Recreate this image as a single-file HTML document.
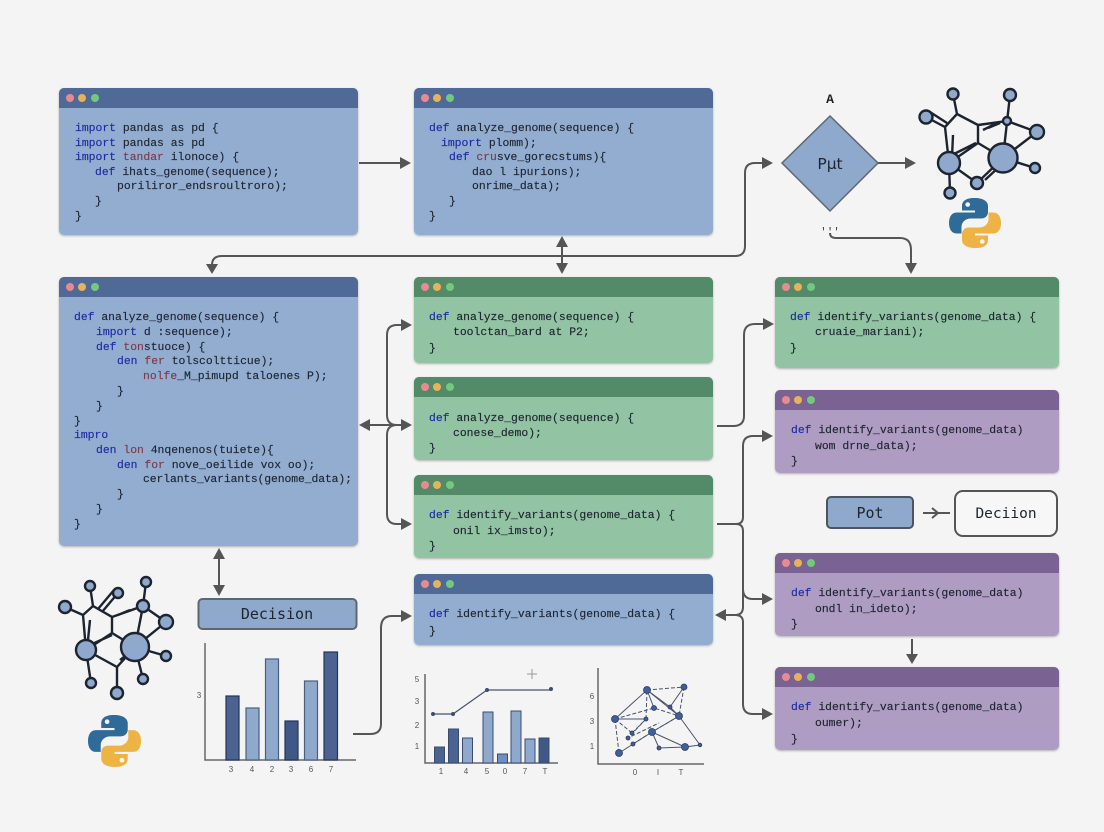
<!DOCTYPE html>
<html><head><meta charset="utf-8"><style>
html,body{margin:0;padding:0;background:#f4f4f4;width:1104px;height:832px;overflow:hidden}
svg{display:block}
.c{font-family:"Liberation Mono",monospace;font-size:11.4px;fill:#1d2530;stroke:#1d2530;stroke-width:.15}
.k{fill:#1c2ca0;stroke:#1c2ca0}.r{fill:#7d3a4a;stroke:#7d3a4a}
.l{fill:none;stroke:#555;stroke-width:2}
.a{fill:#555}
.m line,.m path{stroke:#1c2430;stroke-width:2.4;fill:none}
.m circle{fill:#8fa9cd;stroke:#1c2430;stroke-width:2.4}
.t{font-family:"Liberation Sans",sans-serif;font-size:8px;fill:#555;text-anchor:middle}
</style></head><body>
<svg width="1104" height="832" viewBox="0 0 1104 832" xmlns="http://www.w3.org/2000/svg">
<defs>
<filter id="s" x="-5%" y="-5%" width="110%" height="110%"><feDropShadow dx="0" dy="1" stdDeviation="1" flood-color="#000" flood-opacity=".28"/></filter>
<g id="dots"><circle cx="11" cy="10" r="4" fill="#e98a93"/><circle cx="23" cy="10" r="4" fill="#e8b25a"/><circle cx="36" cy="10" r="4" fill="#72c97f"/></g>
<g id="py">
<path fill="#2f6b99" d="M49 0C30 0 25 8 25 16V25H50V29H15C5 29 0 38 0 50C0 62 5 71 15 71H24V58C24 48 32 41 42 41H62C70 41 75 35 75 28V16C75 8 68 0 49 0Z"/>
<circle cx="36" cy="13" r="4.5" fill="#f4f4f4"/>
<path fill="#eeb345" d="M51 100C70 100 75 92 75 84V75H50V71H85C95 71 100 62 100 50C100 38 95 29 85 29H76V42C76 52 68 59 58 59H38C30 59 25 65 25 72V84C25 92 32 100 51 100Z"/>
<circle cx="64" cy="87" r="4.5" fill="#f4f4f4"/>
</g>
</defs>
<rect width="1104" height="832" fill="#f4f4f4"/>

<!-- blue windows -->
<g filter="url(#s)">
<rect x="59" y="88" width="299" height="147" rx="5" fill="#93add1"/><path d="M59 108V93a5 5 0 0 1 5-5H353a5 5 0 0 1 5 5V108Z" fill="#4f6b96"/>
<rect x="414" y="88" width="299" height="147" rx="5" fill="#93add1"/><path d="M414 108V93a5 5 0 0 1 5-5H708a5 5 0 0 1 5 5V108Z" fill="#4f6b96"/>
<rect x="59" y="277" width="299" height="269" rx="5" fill="#93add1"/><path d="M59 297V282a5 5 0 0 1 5-5H353a5 5 0 0 1 5 5V297Z" fill="#4f6b96"/>
<rect x="414" y="574" width="299" height="71" rx="5" fill="#93add1"/><path d="M414 594V579a5 5 0 0 1 5-5H708a5 5 0 0 1 5 5V594Z" fill="#4f6b96"/>
<!-- green -->
<rect x="414" y="277" width="299" height="86" rx="5" fill="#92c3a2"/><path d="M414 297V282a5 5 0 0 1 5-5H708a5 5 0 0 1 5 5V297Z" fill="#528a68"/>
<rect x="414" y="377" width="299" height="83" rx="5" fill="#92c3a2"/><path d="M414 397V382a5 5 0 0 1 5-5H708a5 5 0 0 1 5 5V397Z" fill="#528a68"/>
<rect x="414" y="475" width="299" height="83" rx="5" fill="#92c3a2"/><path d="M414 495V480a5 5 0 0 1 5-5H708a5 5 0 0 1 5 5V495Z" fill="#528a68"/>
<rect x="775" y="277" width="284" height="91" rx="5" fill="#92c3a2"/><path d="M775 297V282a5 5 0 0 1 5-5H1054a5 5 0 0 1 5 5V297Z" fill="#528a68"/>
<!-- purple -->
<rect x="775" y="390" width="284" height="83" rx="5" fill="#ae9cc2"/><path d="M775 410V395a5 5 0 0 1 5-5H1054a5 5 0 0 1 5 5V410Z" fill="#7a6292"/>
<rect x="775" y="553" width="284" height="83" rx="5" fill="#ae9cc2"/><path d="M775 573V558a5 5 0 0 1 5-5H1054a5 5 0 0 1 5 5V573Z" fill="#7a6292"/>
<rect x="775" y="667" width="284" height="83" rx="5" fill="#ae9cc2"/><path d="M775 687V672a5 5 0 0 1 5-5H1054a5 5 0 0 1 5 5V687Z" fill="#7a6292"/>
</g>
<use href="#dots" x="59" y="88"/><use href="#dots" x="414" y="88"/><use href="#dots" x="59" y="277"/><use href="#dots" x="414" y="574"/>
<use href="#dots" x="414" y="277"/><use href="#dots" x="414" y="377"/><use href="#dots" x="414" y="475"/><use href="#dots" x="775" y="277"/>
<use href="#dots" x="775" y="390"/><use href="#dots" x="775" y="553"/><use href="#dots" x="775" y="667"/>

<!-- code -->
<g class="c">
<text x="75" y="131"><tspan class="k">import</tspan> pandas as pd {</text>
<text x="75" y="146"><tspan class="k">import</tspan> pandas as pd</text>
<text x="75" y="160"><tspan class="k">import</tspan> <tspan class="r">tandar</tspan> ilonoce) {</text>
<text x="95" y="175"><tspan class="k">def</tspan> ihats_genome(sequence);</text>
<text x="117" y="189">poriliror_endsroultroro);</text>
<text x="95" y="204">}</text>
<text x="75" y="219">}</text>

<text x="429" y="131"><tspan class="k">def</tspan> analyze_genome(sequence) {</text>
<text x="441" y="146"><tspan class="k">import</tspan> plomm);</text>
<text x="449" y="160"><tspan class="k">def</tspan> <tspan class="r">cru</tspan>sve_gorecstums){</text>
<text x="472" y="175">dao l ipurions);</text>
<text x="472" y="189">onrime_data);</text>
<text x="449" y="204">}</text>
<text x="429" y="219">}</text>

<text x="74" y="320"><tspan class="k">def</tspan> analyze_genome(sequence) {</text>
<text x="96" y="335"><tspan class="k">import</tspan> d :sequence);</text>
<text x="96" y="350"><tspan class="k">def</tspan> <tspan class="r">ton</tspan>stuoce) {</text>
<text x="117" y="364"><tspan class="k">den</tspan> <tspan class="r">fer</tspan> tolscoltticue);</text>
<text x="143" y="379"><tspan class="r">nolfe</tspan>_M_pimupd taloenes P);</text>
<text x="117" y="394">}</text>
<text x="96" y="409">}</text>
<text x="74" y="424">}</text>
<text x="74" y="438"><tspan class="k">impro</tspan></text>
<text x="96" y="453"><tspan class="k">den</tspan> <tspan class="r">lon</tspan> 4nqenenos(tuiete){</text>
<text x="117" y="468"><tspan class="k">den</tspan> <tspan class="r">for</tspan> nove_oeilide vox oo);</text>
<text x="143" y="482" textLength="209">cerlants_variants(genome_data);</text>
<text x="117" y="497">}</text>
<text x="96" y="512">}</text>
<text x="74" y="527">}</text>

<text x="429" y="320"><tspan class="k">def</tspan> analyze_genome(sequence) {</text>
<text x="453" y="335">toolctan_bard at P2;</text>
<text x="429" y="351">}</text>
<text x="429" y="421"><tspan class="k">def</tspan> analyze_genome(sequence) {</text>
<text x="453" y="436">conese_demo);</text>
<text x="429" y="451">}</text>
<text x="429" y="518"><tspan class="k">def</tspan> identify_variants(genome_data) {</text>
<text x="453" y="534">onil ix_imsto);</text>
<text x="429" y="549">}</text>
<text x="429" y="617"><tspan class="k">def</tspan> identify_variants(genome_data) {</text>
<text x="429" y="634">}</text>

<text x="790" y="320"><tspan class="k">def</tspan> identify_variants(genome_data) {</text>
<text x="815" y="335">cruaie_mariani);</text>
<text x="790" y="351">}</text>
<text x="791" y="433"><tspan class="k">def</tspan> identify_variants(genome_data)</text>
<text x="815" y="449">wom drne_data);</text>
<text x="791" y="464">}</text>
<text x="791" y="596"><tspan class="k">def</tspan> identify_variants(genome_data)</text>
<text x="815" y="612">ondl in_ideto);</text>
<text x="791" y="627">}</text>
<text x="791" y="710"><tspan class="k">def</tspan> identify_variants(genome_data)</text>
<text x="815" y="726">oumer);</text>
<text x="791" y="742">}</text>
</g>

<!-- connectors -->
<path class="l" d="M359 163H401"/><polygon class="a" points="411,163 400,157 400,169"/>
<path class="l" d="M212 264V265Q212 256 222 256H735Q745 256 745 246V173Q745 163 755 163H763"/>
<polygon class="a" points="212,274 206,264 218,264"/><polygon class="a" points="773,163 762,157 762,169"/>
<path class="l" d="M562 244V266"/><polygon class="a" points="562,236 556,247 568,247"/><polygon class="a" points="562,274 556,263 568,263"/>
<path class="l" d="M878 163H906"/><polygon class="a" points="916,163 905,157 905,169"/>
<path class="l" d="M830 233Q830 238 836 238H900Q911 238 911 250V264"/><polygon class="a" points="911,274 905,263 917,263"/>
<path class="l" d="M366 425H402M397 425Q387 425 387 415V335Q387 325 397 325H402M397 425Q387 425 387 435V514Q387 524 397 524H402"/>
<polygon class="a" points="359,425 370,419 370,431"/><polygon class="a" points="412,425 401,419 401,431"/><polygon class="a" points="412,325 401,319 401,331"/><polygon class="a" points="412,524 401,518 401,530"/>
<path class="l" d="M717 426H733Q744 426 744 416V335Q744 324 755 324H764"/><polygon class="a" points="774,324 763,318 763,330"/>
<path class="l" d="M717 524H736Q743 524 743 517V446Q743 436 753 436H764M736 524Q743 524 743 531V607Q743 615 735 615H726M735 615Q743 615 743 622V704Q743 714 753 714H764M743 589Q743 599 753 599H764"/>
<polygon class="a" points="773,436 762,430 762,442"/><polygon class="a" points="773,599 762,593 762,605"/><polygon class="a" points="773,714 762,708 762,720"/><polygon class="a" points="715,615 726,609 726,621"/>
<path class="l" d="M912 639V655"/><polygon class="a" points="912,664 906,654 918,654"/>
<path class="l" d="M923 513H950"/><path class="l" d="M932 508L938 513L932 518"/>
<path class="l" d="M219 556V588"/><polygon class="a" points="219,548 213,559 225,559"/><polygon class="a" points="219,596 213,585 225,585"/>
<path class="l" d="M353 734H370Q381 734 381 724V628Q381 616 392 616H402"/><polygon class="a" points="412,616 401,610 401,622"/>

<!-- diamond -->
<polygon points="830,116 878,163 830,211 782,163" fill="#8fa9cd" stroke="#5e6670" stroke-width="1.5"/>
<text x="830" y="169" text-anchor="middle" font-family="'DejaVu Sans',sans-serif" font-size="15.500" fill="#1d2530">Pμt</text>
<text x="830" y="103" text-anchor="middle" font-family="'Liberation Mono',monospace" font-weight="bold" font-size="13" fill="#222">A</text>
<text x="830" y="235" text-anchor="middle" font-family="'Liberation Mono',monospace" font-size="11" fill="#444">'''</text>

<!-- boxes -->
<rect x="198.500" y="599" width="158" height="30" rx="4" fill="#8fa9cd" stroke="#5e6670" stroke-width="2"/>
<text x="277" y="619" text-anchor="middle" font-family="'DejaVu Sans Mono',monospace" font-size="15" fill="#1d2530">Decision</text>
<rect x="827" y="497" width="86" height="31" rx="4" fill="#8fa9cd" stroke="#4a5560" stroke-width="2"/>
<text x="870" y="518" text-anchor="middle" font-family="'DejaVu Sans Mono',monospace" font-size="15" fill="#1d2530">Pot</text>
<rect x="955" y="491" width="102" height="45" rx="8" fill="#f7f7f7" stroke="#555" stroke-width="2"/>
<text x="1006" y="518" text-anchor="middle" font-family="'DejaVu Sans Mono',monospace" font-size="14.500" fill="#1d2530">Deciion</text>

<!-- molecule top right -->
<g class="m">
<path d="M953 94L957 114L945 127M957 114L978 125L978 143L949 163M945 127L949 163M953 135L952 157M926 117L945 127M930 112L947 123M978 125L1007 121L1037 132L1003 158M988 128L1000 123M983 130L995 124M1010 95L1003 158M978 143L1003 158M952 155L976 143M949 163L950 193M949 163L977 183L1003 158M985 180L1000 166M1003 158L1035 168"/>
<circle cx="953" cy="94" r="5.500"/><circle cx="926" cy="117" r="6.500"/><circle cx="1010" cy="95" r="6"/><circle cx="1007" cy="121" r="4"/><circle cx="1037" cy="132" r="7"/><circle cx="949" cy="163" r="11"/><circle cx="1003" cy="158" r="14.500"/><circle cx="1035" cy="168" r="5"/><circle cx="977" cy="183" r="6"/><circle cx="950" cy="193" r="5.500"/>
</g>
<!-- molecule left -->
<g class="m">
<path d="M90 586L93 606L83 615M93 606L112 617L112 633L86 650M83 615L86 650M90 620L88 640M65 607L83 615M118 593L102 612M114 590L98 609M112 617L143 606L166 622L135 647M118 615L130 610M146 582L143 606M143 606L135 647M112 633L135 647M90 645L112 635M86 650L117 667L135 647M120 660L130 652M86 650L91 683M117 667L117 693M135 647L143 679M135 647L166 656"/>
<circle cx="90" cy="586" r="5"/><circle cx="65" cy="607" r="6"/><circle cx="118" cy="593" r="5"/><circle cx="146" cy="582" r="5"/><circle cx="143" cy="606" r="6"/><circle cx="166" cy="622" r="7"/><circle cx="86" cy="650" r="10"/><circle cx="135" cy="647" r="14"/><circle cx="166" cy="656" r="5"/><circle cx="91" cy="683" r="5"/><circle cx="143" cy="679" r="5"/><circle cx="117" cy="693" r="6"/>
</g>
<!-- python logos -->
<use href="#py" transform="translate(949 198) scale(.52 .5)"/>
<use href="#py" transform="translate(88 715) scale(.53 .52)"/>

<!-- bar chart 1 -->
<path d="M205 643V760H356" fill="none" stroke="#666" stroke-width="1.500"/>
<g stroke="#253456" stroke-width="1.200">
<rect x="226" y="696" width="13" height="64" fill="#4a6390"/>
<rect x="246" y="708" width="13" height="52" fill="#8fa9cd" stroke="#4a5f80"/>
<rect x="265.500" y="659" width="13" height="101" fill="#8fa9cd" stroke="#4a5f80"/>
<rect x="285" y="721" width="13" height="39" fill="#3f5885"/>
<rect x="304.500" y="681" width="13" height="79" fill="#8fa9cd" stroke="#4a5f80"/>
<rect x="324" y="652" width="13.500" height="108" fill="#4a6390"/>
</g>
<text class="t" x="199" y="698">3</text>
<text class="t" x="231" y="772">3</text><text class="t" x="252" y="772">4</text><text class="t" x="272" y="772">2</text><text class="t" x="291" y="772">3</text><text class="t" x="311" y="772">6</text><text class="t" x="331" y="772">7</text>

<!-- chart 2 -->
<path d="M425 674V763H558" fill="none" stroke="#666" stroke-width="1.500"/>
<g stroke="#3a4c6e" stroke-width="1">
<rect x="434.500" y="747" width="10" height="16" fill="#4a6390"/>
<rect x="448.500" y="729" width="10" height="34" fill="#4a6390"/>
<rect x="462.500" y="738" width="10" height="25" fill="#8fa9cd"/>
<rect x="483" y="712" width="10" height="51" fill="#8fa9cd"/>
<rect x="497.500" y="754" width="10" height="9" fill="#6f8fc0"/>
<rect x="511" y="711" width="10" height="52" fill="#8fa9cd"/>
<rect x="525" y="739" width="10" height="24" fill="#8fa9cd"/>
<rect x="539" y="738" width="10" height="25" fill="#3f5885"/>
</g>
<path d="M433 714H453L487 690H551" fill="none" stroke="#46536e" stroke-width="1.200"/>
<g fill="#3f4c6e"><circle cx="433" cy="714" r="2"/><circle cx="453" cy="714" r="2"/><circle cx="487" cy="690" r="2"/><circle cx="551" cy="689" r="2"/></g>
<path d="M532 669V679M527 674H537" stroke="#999" stroke-width="1"/>
<text class="t" x="417" y="682">5</text><text class="t" x="417" y="704">3</text><text class="t" x="417" y="728">2</text><text class="t" x="417" y="749">1</text>
<text class="t" x="441" y="774">1</text><text class="t" x="466" y="774">4</text><text class="t" x="487" y="774">5</text><text class="t" x="505" y="774">0</text><text class="t" x="525" y="774">7</text><text class="t" x="545" y="774">T</text>

<!-- network -->
<path d="M598 668V764H704" fill="none" stroke="#666" stroke-width="1.500"/>
<g fill="none" stroke="#4a5468" stroke-width="1">
<path d="M615 719L647 690L679 716L652 732L619 753M647 690L654 708M647 690L670 707M670 707L684 687M679 716L700 745M652 732L685 747M652 732L659 748L685 747L700 745M615 719L646 719M679 716L670 707"/>
<path stroke-dasharray="4 2" d="M615 719L619 753M647 690L684 687M684 687L679 716M615 719L654 708L679 716M615 719L632 733M646 719L628 738L659 723M633 744L652 732M679 716L652 732M646 719L647 690M632 733L646 719"/>
</g>
<g fill="#3f5f9c" stroke="#2a3a60" stroke-width=".8">
<circle cx="619" cy="753" r="3.500"/><circle cx="615" cy="719" r="3.500"/><circle cx="647" cy="690" r="3.500"/><circle cx="684" cy="687" r="3"/><circle cx="679" cy="716" r="3.500"/><circle cx="652" cy="732" r="3.500"/><circle cx="685" cy="747" r="3.500"/><circle cx="700" cy="745" r="1.800"/><circle cx="659" cy="748" r="2"/><circle cx="633" cy="744" r="2"/><circle cx="654" cy="708" r="2.500"/><circle cx="670" cy="707" r="2"/><circle cx="646" cy="719" r="2"/><circle cx="632" cy="733" r="2"/><circle cx="628" cy="738" r="2"/>
</g>
<text class="t" x="592" y="699">6</text><text class="t" x="592" y="724">3</text><text class="t" x="592" y="749">1</text>
<text class="t" x="635" y="775">0</text><text class="t" x="658" y="775">I</text><text class="t" x="681" y="775">T</text>
</svg>
</body></html>
